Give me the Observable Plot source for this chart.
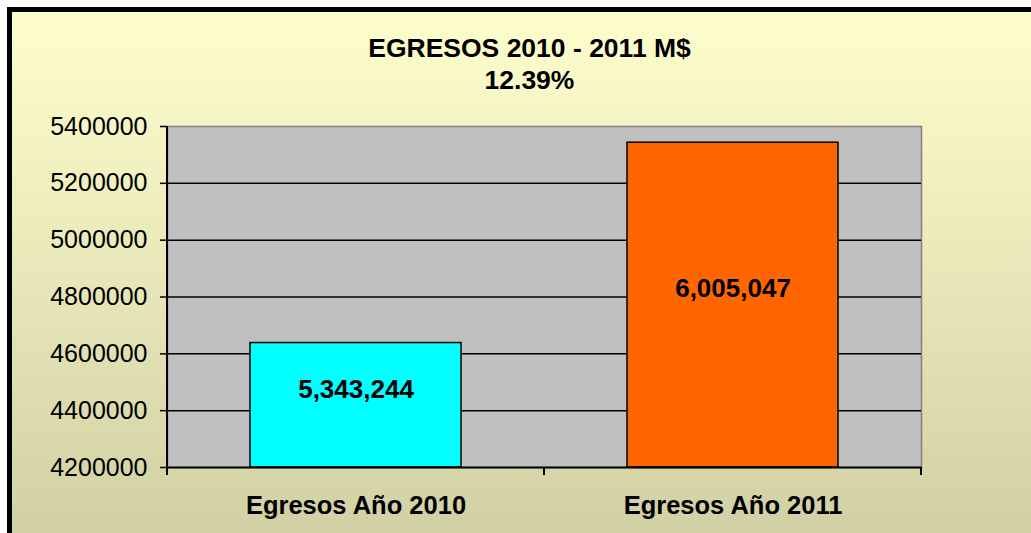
<!DOCTYPE html>
<html>
<head>
<meta charset="utf-8">
<script src="https://cdn.jsdelivr.net/npm/d3@7"></script>
<script src="https://cdn.jsdelivr.net/npm/@observablehq/plot@0.6"></script>
<style>
  html, body { margin: 0; padding: 0; background: white; }
  body { width: 1031px; height: 533px; overflow: hidden; position: relative; font-family: "Liberation Sans", Arial, sans-serif; }
  #frame { position: absolute; left: 7px; top: 7px; width: 1100px; height: 600px; border: 5px solid black;
           background: linear-gradient(to bottom, #fefecd 0px, #d0d0a4 525px, #cfcfa2 600px); }
  #title { position: absolute; left: 0; top: 32px; width: 1059px; text-align: center; font-weight: bold;
           font-size: 26.5px; line-height: 32px; color: black; }
  #chart { position: absolute; left: 0; top: 110px; }
</style>
</head>
<body>
<div id="frame"></div>
<div id="title"></div>
<div id="chart"></div>
<script>
const titleText = "EGRESOS 2010 - 2011 M$";
const subtitleText = "12.39%";
const categories = ["Egresos Año 2010", "Egresos Año 2011"];
const barValues = [4638000, 5343000];
const labelTexts = ["5,343,244", "6,005,047"];
const barColors = ["#00ffff", "#ff6600"];
const yTicks = [4200000, 4400000, 4600000, 4800000, 5000000, 5200000, 5400000];

document.getElementById("title").innerHTML = titleText + "<br>" + subtitleText;

const yMin = yTicks[0], yMax = yTicks[yTicks.length - 1];
const data = categories.map((c, i) => ({cat: c, value: barValues[i], label: labelTexts[i]}));

function edges(...args) {
  const dims = args.find(a => a && a.marginLeft !== undefined && a.width !== undefined);
  const {marginLeft, marginRight, marginTop, marginBottom, width, height} = dims;
  const g = d3.create("svg:g");
  const bottom = height - marginBottom;
  g.append("line").attr("x1", marginLeft).attr("x2", marginLeft).attr("y1", marginTop).attr("y2", bottom)
    .attr("stroke", "black").attr("stroke-width", 2);
  const pw = (width - marginLeft - marginRight) / categories.length;
  for (let i = 0; i <= categories.length; i++) {
    const x = marginLeft + i * pw;
    g.append("line").attr("x1", x).attr("x2", x).attr("y1", bottom).attr("y2", bottom + 8)
      .attr("stroke", "black").attr("stroke-width", 2);
  }
  return g.node();
}

const chart = Plot.plot({
  width: 1031,
  height: 423,
  marginTop: 16,
  marginBottom: 66,
  marginLeft: 167,
  marginRight: 110,
  style: {background: "transparent", fontFamily: "'Liberation Sans', Arial, sans-serif", color: "black"},
  x: {domain: categories, paddingInner: 0.44, paddingOuter: 0.22, axis: null},
  y: {domain: [yMin, yMax], axis: null},
  color: {domain: categories, range: barColors},
  marks: [
    Plot.frame({fill: "#c0c0c0", stroke: "#808080", strokeWidth: 1.5}),
    Plot.gridY(yTicks.slice(1, -1), {stroke: "black", strokeOpacity: 1, strokeWidth: 1.5}),
    Plot.barY(data, {x: "cat", y1: yMin, y2: "value", fill: "cat", stroke: "black", strokeWidth: 1.5}),
    Plot.text(data, {x: "cat", y: d => (yMin + d.value) / 2, text: "label", fontSize: 26, fontWeight: "bold", fill: "black", dy: -16}),
    Plot.axisY(yTicks, {label: null, tickSize: 7, tickPadding: 13, tickFormat: d3.format("d"), fontSize: 25, stroke: "black", strokeWidth: 1.5, fill: "black"}),
    Plot.axisX({label: null, tickSize: 0, tickPadding: 28, fontSize: 25.5, fontWeight: "bold", fill: "black"}),
    Plot.ruleY([yMin], {stroke: "black", strokeWidth: 2}),
    edges
  ]
});
document.getElementById("chart").appendChild(chart);
</script>
</body>
</html>
